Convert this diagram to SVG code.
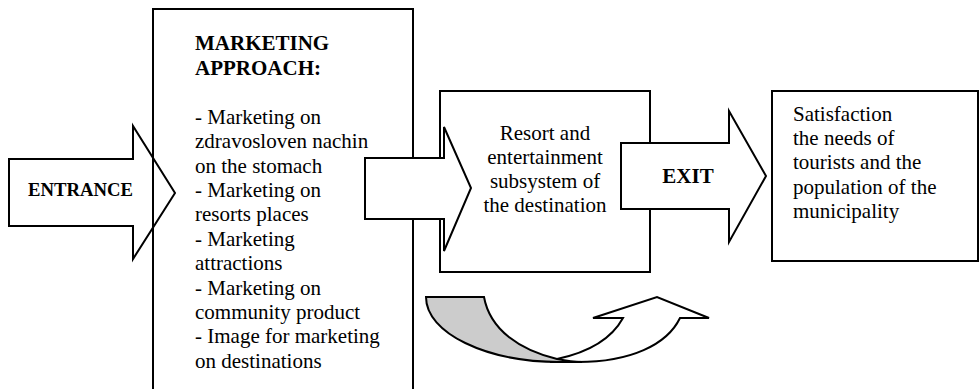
<svg xmlns="http://www.w3.org/2000/svg" width="979" height="389" viewBox="0 0 979 389">
<style>
.s{stroke:#000;stroke-width:2;fill:#fff;stroke-linejoin:miter}
.n{stroke:#000;stroke-width:2;fill:none}
text{font-family:'Liberation Serif','Times New Roman',Times,serif;font-size:21px;fill:#000}
.b{font-weight:bold}
.c{text-anchor:middle}
.e{font-size:18.7px}
</style>
<rect width="979" height="389" fill="#fff"/>
<g id="entrance">
<path class="s" d="M9,159 H133 V126 L175,193 L133,259 V226 H9 Z"/>
<text class="b e" x="28" y="196">ENTRANCE</text>
</g>
<g id="marketing">
<path class="n" d="M153,400 V9 H413 V400"/>
<text class="b" x="195" y="50">MARKETING</text>
<text class="b" x="195" y="75">APPROACH:</text>
<text x="195" y="124">- Marketing on</text>
<text x="195" y="148">zdravosloven nachin</text>
<text x="195" y="173">on the stomach</text>
<text x="195" y="197">- Marketing on</text>
<text x="195" y="221">resorts places</text>
<text x="195" y="246">- Marketing</text>
<text x="195" y="270">attractions</text>
<text x="195" y="295">- Marketing on</text>
<text x="195" y="319">community product</text>
<text x="195" y="343">- Image for marketing</text>
<text x="195" y="368">on destinations</text>
</g>
<g id="resort">
<rect class="n" x="440" y="91" width="210" height="181"/>
<text class="c" x="545" y="140">Resort and</text>
<text class="c" x="545" y="164">entertainment</text>
<text class="c" x="545" y="188">subsystem of</text>
<text class="c" x="545" y="212">the destination</text>
</g>
<g id="satisfaction">
<rect class="n" x="772" y="91" width="206" height="170"/>
<text x="793" y="121">Satisfaction</text>
<text x="793" y="145">the needs of</text>
<text x="793" y="169">tourists and the</text>
<text x="793" y="194">population of the</text>
<text x="793" y="218">municipality</text>
</g>
<g id="connectors">
<path class="s" d="M365,158 H444 V127 L471,188 L444,251 V219 H365 Z"/>
<path class="s" d="M621,143 H729 V111 L766,176 L729,242 V209 H621 Z"/>
<text class="b c" x="688" y="183">EXIT</text>
<path class="s" d="M550,362 H578 C630,362 667,345 680,318 H709 L657,297 L593,318 H623 C612,338 590,352 557,359 Z"/>
<path class="s" style="fill:#cccccc" d="M426,297 H484 C490,330 520,350 557,359 C567,361 575,362 582,362 H560 C486,362 426,333 426,297 Z"/>
</g>
</svg>
